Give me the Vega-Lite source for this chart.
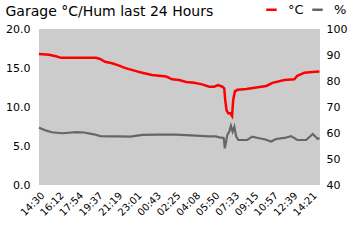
{
  "$schema": "https://vega.github.io/schema/vega-lite/v6.json",
  "width": 281,
  "height": 156,
  "padding": {"left": 5, "top": 3, "right": 5, "bottom": 5},
  "background": "white",
  "config": {
    "font": "DejaVu Sans",
    "view": {"fill": "#cccccc", "stroke": null},
    "axis": {"labelFont": "DejaVu Sans", "labelColor": "black", "labelFontSize": 11, "domain": false, "ticks": false, "grid": false, "title": null}
  },
  "title": {"text": "Garage °C/Hum last 24 Hours", "anchor": "start", "frame": "bounds", "fontSize": 14, "fontWeight": "normal", "color": "black", "font": "DejaVu Sans", "offset": -16},
  "data": {
    "values": [
      {"time": "2024-01-01T14:30", "series": "°C", "value": 16.8},
      {"time": "2024-01-01T15:23", "series": "°C", "value": 16.7},
      {"time": "2024-01-01T15:59", "series": "°C", "value": 16.5},
      {"time": "2024-01-01T16:26", "series": "°C", "value": 16.3},
      {"time": "2024-01-01T18:00", "series": "°C", "value": 16.3},
      {"time": "2024-01-01T19:30", "series": "°C", "value": 16.3},
      {"time": "2024-01-01T19:51", "series": "°C", "value": 16.15},
      {"time": "2024-01-01T20:17", "series": "°C", "value": 15.8},
      {"time": "2024-01-01T20:54", "series": "°C", "value": 15.6},
      {"time": "2024-01-01T21:31", "series": "°C", "value": 15.3},
      {"time": "2024-01-01T21:57", "series": "°C", "value": 15.05},
      {"time": "2024-01-01T22:23", "series": "°C", "value": 14.85},
      {"time": "2024-01-01T23:00", "series": "°C", "value": 14.6},
      {"time": "2024-01-01T23:32", "series": "°C", "value": 14.4},
      {"time": "2024-01-02T00:24", "series": "°C", "value": 14.1},
      {"time": "2024-01-02T01:01", "series": "°C", "value": 14.0},
      {"time": "2024-01-02T01:38", "series": "°C", "value": 13.9},
      {"time": "2024-01-02T02:10", "series": "°C", "value": 13.55},
      {"time": "2024-01-02T02:46", "series": "°C", "value": 13.45},
      {"time": "2024-01-02T03:23", "series": "°C", "value": 13.2},
      {"time": "2024-01-02T04:05", "series": "°C", "value": 13.1},
      {"time": "2024-01-02T04:47", "series": "°C", "value": 12.9},
      {"time": "2024-01-02T05:24", "series": "°C", "value": 12.6},
      {"time": "2024-01-02T05:50", "series": "°C", "value": 12.6},
      {"time": "2024-01-02T06:11", "series": "°C", "value": 12.8},
      {"time": "2024-01-02T06:33", "series": "°C", "value": 12.6},
      {"time": "2024-01-02T06:43", "series": "°C", "value": 12.4},
      {"time": "2024-01-02T06:48", "series": "°C", "value": 10.9},
      {"time": "2024-01-02T06:55", "series": "°C", "value": 9.6},
      {"time": "2024-01-02T07:04", "series": "°C", "value": 9.2},
      {"time": "2024-01-02T07:15", "series": "°C", "value": 9.2},
      {"time": "2024-01-02T07:24", "series": "°C", "value": 8.85},
      {"time": "2024-01-02T07:30", "series": "°C", "value": 10.9},
      {"time": "2024-01-02T07:39", "series": "°C", "value": 12.0},
      {"time": "2024-01-02T07:53", "series": "°C", "value": 12.2},
      {"time": "2024-01-02T08:39", "series": "°C", "value": 12.3},
      {"time": "2024-01-02T09:31", "series": "°C", "value": 12.5},
      {"time": "2024-01-02T10:24", "series": "°C", "value": 12.7},
      {"time": "2024-01-02T10:56", "series": "°C", "value": 13.1},
      {"time": "2024-01-02T11:59", "series": "°C", "value": 13.45},
      {"time": "2024-01-02T12:51", "series": "°C", "value": 13.55},
      {"time": "2024-01-02T13:07", "series": "°C", "value": 14.0},
      {"time": "2024-01-02T13:44", "series": "°C", "value": 14.4},
      {"time": "2024-01-02T14:26", "series": "°C", "value": 14.5},
      {"time": "2024-01-02T15:03", "series": "°C", "value": 14.55},
      {"time": "2024-01-01T14:30", "series": "%", "value": 62.1},
      {"time": "2024-01-01T14:37", "series": "%", "value": 61.8},
      {"time": "2024-01-01T15:12", "series": "%", "value": 60.8},
      {"time": "2024-01-01T15:38", "series": "%", "value": 60.3},
      {"time": "2024-01-01T16:31", "series": "%", "value": 59.9},
      {"time": "2024-01-01T17:08", "series": "%", "value": 60.1},
      {"time": "2024-01-01T17:45", "series": "%", "value": 60.3},
      {"time": "2024-01-01T18:27", "series": "%", "value": 60.2},
      {"time": "2024-01-01T19:18", "series": "%", "value": 59.5},
      {"time": "2024-01-01T19:52", "series": "%", "value": 58.8},
      {"time": "2024-01-01T20:38", "series": "%", "value": 58.7},
      {"time": "2024-01-01T21:20", "series": "%", "value": 58.7},
      {"time": "2024-01-01T22:30", "series": "%", "value": 58.6},
      {"time": "2024-01-01T23:32", "series": "%", "value": 59.3},
      {"time": "2024-01-02T01:01", "series": "%", "value": 59.4},
      {"time": "2024-01-02T02:29", "series": "%", "value": 59.4},
      {"time": "2024-01-02T04:14", "series": "%", "value": 59.0},
      {"time": "2024-01-02T05:24", "series": "%", "value": 58.7},
      {"time": "2024-01-02T05:59", "series": "%", "value": 58.7},
      {"time": "2024-01-02T06:17", "series": "%", "value": 58.3},
      {"time": "2024-01-02T06:40", "series": "%", "value": 58.1},
      {"time": "2024-01-02T06:46", "series": "%", "value": 54.1},
      {"time": "2024-01-02T06:59", "series": "%", "value": 59.2},
      {"time": "2024-01-02T07:09", "series": "%", "value": 60.5},
      {"time": "2024-01-02T07:18", "series": "%", "value": 62.8},
      {"time": "2024-01-02T07:27", "series": "%", "value": 60.5},
      {"time": "2024-01-02T07:36", "series": "%", "value": 62.4},
      {"time": "2024-01-02T07:46", "series": "%", "value": 58.6},
      {"time": "2024-01-02T07:57", "series": "%", "value": 57.3},
      {"time": "2024-01-02T08:44", "series": "%", "value": 57.3},
      {"time": "2024-01-02T09:10", "series": "%", "value": 58.6},
      {"time": "2024-01-02T09:47", "series": "%", "value": 58.0},
      {"time": "2024-01-02T10:19", "series": "%", "value": 57.5},
      {"time": "2024-01-02T10:49", "series": "%", "value": 56.7},
      {"time": "2024-01-02T11:15", "series": "%", "value": 57.7},
      {"time": "2024-01-02T11:59", "series": "%", "value": 58.1},
      {"time": "2024-01-02T12:34", "series": "%", "value": 58.8},
      {"time": "2024-01-02T13:07", "series": "%", "value": 57.3},
      {"time": "2024-01-02T13:53", "series": "%", "value": 57.3},
      {"time": "2024-01-02T14:28", "series": "%", "value": 59.6},
      {"time": "2024-01-02T14:54", "series": "%", "value": 57.7},
      {"time": "2024-01-02T15:03", "series": "%", "value": 58.1}
    ]
  },
  "encoding": {
    "x": {
      "field": "time", "type": "temporal",
      "scale": {"domain": [{"year": 2024, "month": 1, "date": 1, "hours": 14, "minutes": 30}, {"year": 2024, "month": 1, "date": 2, "hours": 15, "minutes": 6}]},
      "axis": {
        "format": "%H:%M", "labelAngle": -45, "labelFontSize": 10, "labelPadding": 5, "labelDx": -8, "labelOverlap": false, "labelBound": false, "labelFlush": false,
        "values": [
          {"year": 2024, "month": 1, "date": 1, "hours": 14, "minutes": 30},
          {"year": 2024, "month": 1, "date": 1, "hours": 16, "minutes": 12},
          {"year": 2024, "month": 1, "date": 1, "hours": 17, "minutes": 54},
          {"year": 2024, "month": 1, "date": 1, "hours": 19, "minutes": 37},
          {"year": 2024, "month": 1, "date": 1, "hours": 21, "minutes": 19},
          {"year": 2024, "month": 1, "date": 1, "hours": 23, "minutes": 1},
          {"year": 2024, "month": 1, "date": 2, "hours": 0, "minutes": 43},
          {"year": 2024, "month": 1, "date": 2, "hours": 2, "minutes": 25},
          {"year": 2024, "month": 1, "date": 2, "hours": 4, "minutes": 8},
          {"year": 2024, "month": 1, "date": 2, "hours": 5, "minutes": 50},
          {"year": 2024, "month": 1, "date": 2, "hours": 7, "minutes": 33},
          {"year": 2024, "month": 1, "date": 2, "hours": 9, "minutes": 15},
          {"year": 2024, "month": 1, "date": 2, "hours": 10, "minutes": 57},
          {"year": 2024, "month": 1, "date": 2, "hours": 12, "minutes": 39},
          {"year": 2024, "month": 1, "date": 2, "hours": 14, "minutes": 21}
        ]
      }
    },
    "color": {
      "field": "series", "type": "nominal",
      "scale": {"domain": ["°C", "%"], "range": ["#ff0000", "#666666"]},
      "legend": {
        "orient": "none", "legendX": 226, "legendY": -26, "direction": "horizontal", "title": null,
        "symbolType": "stroke", "symbolStrokeWidth": 2.5, "symbolSize": 110,
        "labelFontSize": 13, "labelFont": "DejaVu Sans", "labelColor": "black", "labelOffset": 10, "columnPadding": 3
      }
    }
  },
  "layer": [
    {
      "transform": [{"filter": "datum.series === '°C'"}],
      "mark": {"type": "line", "strokeWidth": 2.5, "interpolate": "linear"},
      "encoding": {
        "y": {"field": "value", "type": "quantitative", "scale": {"domain": [0, 20], "nice": false, "zero": false},
              "axis": {"orient": "left", "values": [0, 5, 10, 15, 20], "format": ".1f", "labelPadding": 9}}
      }
    },
    {
      "transform": [{"filter": "datum.series === '%'"}],
      "mark": {"type": "line", "strokeWidth": 2.2, "interpolate": "linear"},
      "encoding": {
        "y": {"field": "value", "type": "quantitative", "scale": {"domain": [40, 100], "nice": false, "zero": false},
              "axis": {"orient": "right", "values": [40, 50, 60, 70, 80, 90, 100], "format": "d", "labelPadding": 6}}
      }
    }
  ],
  "resolve": {"scale": {"y": "independent"}}
}
